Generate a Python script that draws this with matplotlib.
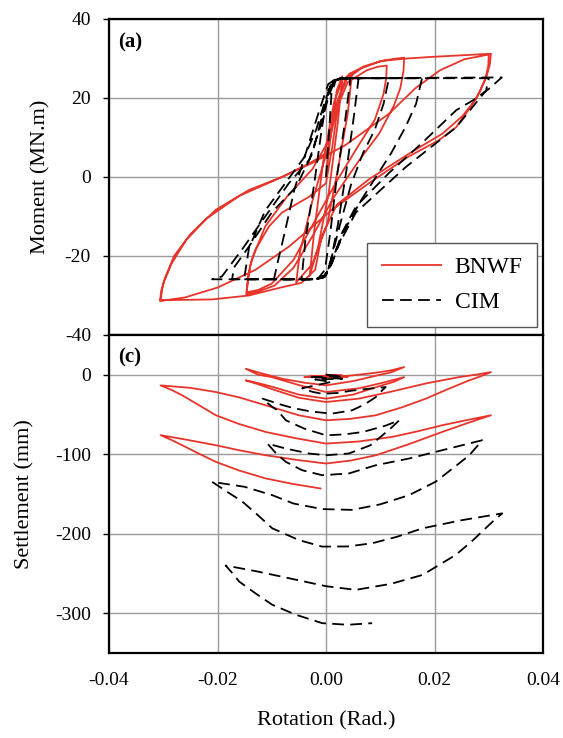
import numpy as np
import matplotlib
matplotlib.use("Agg")
from matplotlib import pyplot as plt

plt.rcParams['font.family'] = ['Liberation Serif', 'DejaVu Serif']
plt.rcParams['axes.unicode_minus'] = False

# (rotation rad, moment MN.m)
bnwf_moment = [
    (0.0000, 0.0), (0.0010, 12.0), (0.0020, 22.0), (0.0030, 25.5),
    (0.0022, 14.0), (0.0005, -4.0), (-0.0015, -18.0), (-0.0030, -25.0),
    (-0.0022, -14.0), (-0.0005, 4.0), (0.0015, 19.0), (0.0030, 24.5), (0.0048, 26.4),
    (0.0040, 16.0), (0.0022, 2.0), (0.0002, -12.0), (-0.0025, -22.0), (-0.0055, -26.7),
    (-0.0048, -19.0), (-0.0025, -6.0), (0.0003, 7.0), (0.0018, 18.0), (0.0035, 24.5),
    (0.0065, 27.5), (0.0100, 29.3), (0.0125, 29.9), (0.0144, 30.2),
    (0.0143, 27.0), (0.0137, 22.5), (0.0125, 18.0), (0.0098, 11.0), (0.0060, 4.0), (0.0015, -5.0),
    (-0.0025, -15.0), (-0.0060, -23.0), (-0.0095, -27.5), (-0.0125, -29.0), (-0.0147, -29.7),
    (-0.0145, -27.0), (-0.0140, -22.5), (-0.0130, -18.4), (-0.0105, -12.5), (-0.0081, -9.0),
    (-0.0031, -5.0), (0.0000, -1.6), (0.0012, 8.0), (0.0022, 18.0), (0.0040, 24.0),
    (0.0075, 27.0), (0.0095, 27.9), (0.0112, 28.2),
    (0.0111, 25.0), (0.0106, 21.0), (0.0090, 14.5), (0.0060, 8.0), (0.0020, -1.0), (-0.0020, -11.0),
    (-0.0060, -21.0), (-0.0100, -27.0), (-0.0125, -28.6), (-0.0146, -29.2),
    (-0.0143, -25.0), (-0.0137, -21.0), (-0.0112, -12.5), (-0.0072, -5.0), (-0.0025, 2.0),
    (0.0008, 10.0), (0.0024, 20.0), (0.0042, 26.0), (0.0070, 28.0), (0.0103, 29.4),
    (0.0150, 30.0), (0.0195, 30.4), (0.0250, 30.8), (0.0304, 31.2),
    (0.0302, 28.5), (0.0296, 25.5), (0.0285, 22.0), (0.0268, 18.0), (0.0240, 12.6),
    (0.0208, 9.3), (0.0150, 5.0), (0.0080, -1.5), (0.0011, -8.3), (-0.0068, -17.6),
    (-0.0130, -23.5), (-0.0200, -28.0), (-0.0260, -30.5), (-0.0306, -31.4),
    (-0.0304, -29.0), (-0.0300, -27.0), (-0.0285, -22.0), (-0.0258, -16.0), (-0.0220, -10.5),
    (-0.0160, -4.8), (-0.0081, 0.0), (-0.0026, 3.5), (0.0035, 8.0), (0.0116, 16.0),
    (0.0165, 22.5), (0.0210, 27.0), (0.0255, 29.8), (0.0300, 31.0),
    (0.0299, 28.0), (0.0294, 25.0), (0.0278, 20.0), (0.0252, 15.5), (0.0215, 11.0), (0.0160, 6.5),
    (0.0080, -0.5), (0.0020, -7.0), (-0.0008, -15.0), (-0.0020, -23.5), (-0.0045, -26.8),
    (-0.0081, -27.9), (-0.0142, -30.0), (-0.0210, -31.0), (-0.0305, -31.2),
    (-0.0302, -28.5), (-0.0298, -26.0), (-0.0280, -20.0), (-0.0250, -14.5), (-0.0203, -8.3),
    (-0.0142, -3.3), (-0.0081, 0.0), (-0.0030, 3.5), (0.0000, 6.0),
]

cim_moment = [
    (0.0000, 0.0), (0.0006, 12.0), (0.0010, 21.0), (0.0018, 24.5), (0.0030, 25.0), (0.0045, 25.0),
    (0.0035, 14.0), (0.0020, 0.0), (0.0008, -14.0), (-0.0002, -23.5), (-0.0015, -25.8), (-0.0045, -25.9),
    (-0.0038, -16.0), (-0.0022, -2.0), (-0.0008, 12.0), (0.0004, 22.0), (0.0018, 24.8), (0.0060, 25.0),
    (0.0052, 16.0), (0.0038, 2.0), (0.0022, -12.0), (0.0008, -22.0), (-0.0005, -25.5),
    (-0.0020, -25.9), (-0.0096, -25.9),
    (-0.0088, -21.0), (-0.0076, -14.0), (-0.0058, -3.0), (-0.0035, 7.0), (-0.0012, 17.0),
    (0.0004, 23.5), (0.0020, 25.0), (0.0116, 25.0),
    (0.0106, 18.5), (0.0090, 12.0), (0.0068, 6.0), (0.0046, -2.0), (0.0026, -12.0),
    (0.0010, -20.5), (0.0000, -24.8), (-0.0020, -25.9), (-0.0151, -25.9),
    (-0.0142, -18.0), (-0.0112, -8.5), (-0.0072, -1.0), (-0.0040, 5.0), (-0.0018, 12.0),
    (0.0000, 20.0), (0.0014, 24.5), (0.0030, 25.0), (0.0177, 25.0),
    (0.0166, 18.5), (0.0146, 12.5), (0.0120, 6.0), (0.0092, 0.0), (0.0062, -6.5),
    (0.0032, -14.0), (0.0012, -21.5), (-0.0002, -25.3), (-0.0020, -25.9), (-0.0210, -25.9),
    (-0.0192, -25.2), (-0.0155, -18.4), (-0.0112, -10.0), (-0.0068, -1.5), (-0.0031, 4.3),
    (-0.0012, 12.0), (0.0004, 20.0), (0.0016, 24.5), (0.0035, 25.0), (0.0324, 25.2),
    (0.0302, 22.5), (0.0272, 19.5), (0.0240, 16.9), (0.0177, 8.6), (0.0116, 1.0),
    (0.0055, -7.5), (0.0030, -14.0), (0.0011, -21.6), (0.0000, -24.8), (-0.0020, -25.9), (-0.0173, -25.9),
    (-0.0170, -23.0), (-0.0142, -17.6), (-0.0100, -9.0), (-0.0055, -2.5), (-0.0025, 6.0),
    (-0.0006, 16.0), (0.0010, 24.0), (0.0030, 25.0), (0.0300, 25.0),
    (0.0295, 21.9), (0.0240, 12.6), (0.0147, 2.5), (0.0055, -9.0), (0.0020, -18.0),
    (0.0006, -22.6), (0.0000, -25.0),
]

# (rotation rad, settlement mm)
bnwf_settle = [
    (0.0000, 0.0), (0.0030, -1.0), (-0.0030, -2.0), (0.0040, -2.5), (-0.0040, -3.0), (0.0000, -3.0),
    (0.0040, -1.5), (0.0092, 2.5), (0.0120, 5.5), (0.0144, 9.6),
    (0.0120, 3.0), (0.0100, 0.0), (0.0050, -8.0), (0.0000, -13.4), (-0.0040, -10.0),
    (-0.0081, -5.0), (-0.0120, 2.0), (-0.0148, 7.5),
    (-0.0125, 0.0), (-0.0100, -3.0), (-0.0050, -13.0), (0.0000, -21.8), (0.0061, -17.0),
    (0.0105, -10.0), (0.0144, -3.0),
    (0.0125, -9.0), (0.0100, -14.0), (0.0050, -25.0), (0.0000, -30.1), (-0.0050, -25.0),
    (-0.0100, -15.0), (-0.0125, -10.5), (-0.0148, -7.1),
    (-0.0125, -12.0), (-0.0100, -18.0), (-0.0050, -29.0), (0.0000, -34.3), (0.0061, -30.0),
    (0.0122, -21.0), (0.0184, -11.0), (0.0245, -3.0), (0.0280, 0.5), (0.0304, 3.3),
    (0.0285, -2.0), (0.0264, -7.1), (0.0225, -18.0), (0.0184, -30.1), (0.0140, -41.0),
    (0.0092, -51.0), (0.0045, -55.5), (0.0000, -57.3), (-0.0050, -51.0), (-0.0111, -38.5),
    (-0.0160, -28.5), (-0.0203, -21.8), (-0.0250, -16.5), (-0.0305, -13.4),
    (-0.0285, -19.0), (-0.0265, -25.9), (-0.0235, -38.0), (-0.0203, -51.0), (-0.0160, -62.0),
    (-0.0111, -72.0), (-0.0055, -80.0), (0.0000, -86.6), (0.0060, -84.0), (0.0122, -78.2),
    (0.0170, -71.0), (0.0214, -63.6), (0.0260, -57.0), (0.0304, -51.0),
    (0.0260, -61.0), (0.0214, -72.0), (0.0150, -88.0), (0.0092, -101.3), (0.0045, -108.0),
    (0.0000, -111.7), (-0.0055, -107.0), (-0.0111, -101.3), (-0.0160, -95.0), (-0.0203, -88.7),
    (-0.0255, -82.0), (-0.0305, -76.0),
    (-0.0285, -82.0), (-0.0265, -88.7), (-0.0235, -99.0), (-0.0203, -109.6), (-0.0160, -120.5),
    (-0.0111, -130.5), (-0.0060, -137.5), (-0.0010, -143.1),
]

cim_settle = [
    (0.0000, 0.0), (0.0030, -2.0), (-0.0030, -3.0), (0.0030, -5.0), (-0.0020, -6.0), (0.0010, -9.0),
    (-0.0044, -17.0), (-0.0025, -21.5), (-0.0007, -24.0), (0.0020, -23.0), (0.0048, -20.0),
    (0.0080, -17.5), (0.0110, -15.5),
    (0.0100, -22.0), (0.0092, -28.0), (0.0072, -37.0), (0.0048, -44.8), (0.0010, -49.0),
    (-0.0030, -46.0), (-0.0060, -42.0), (-0.0081, -38.0), (-0.0117, -30.1),
    (-0.0108, -35.5), (-0.0100, -40.0), (-0.0090, -44.5), (-0.0074, -57.3), (-0.0040, -67.8),
    (0.0000, -76.2), (0.0035, -75.0), (0.0068, -72.0), (0.0110, -64.0), (0.0135, -57.3),
    (0.0120, -67.0), (0.0104, -76.2), (0.0082, -88.7), (0.0042, -99.1), (0.0000, -101.3),
    (-0.0031, -99.1), (-0.0074, -92.9), (-0.0108, -86.6),
    (-0.0092, -99.0), (-0.0074, -109.6), (-0.0044, -120.1), (-0.0007, -126.4), (0.0042, -124.2),
    (0.0092, -113.8), (0.0153, -105.4), (0.0214, -95.0), (0.0288, -82.4),
    (0.0276, -92.0), (0.0264, -101.3), (0.0245, -111.7), (0.0202, -134.6), (0.0153, -151.5),
    (0.0100, -163.0), (0.0048, -170.0), (-0.0007, -169.0), (-0.0060, -162.0), (-0.0099, -151.5),
    (-0.0150, -141.0), (-0.0210, -134.7),
    (-0.0185, -146.0), (-0.0154, -159.7), (-0.0125, -177.0), (-0.0099, -193.2), (-0.0050, -208.0),
    (-0.0007, -216.2), (0.0040, -216.0), (0.0085, -212.0), (0.0130, -204.0), (0.0178, -193.2),
    (0.0250, -183.0), (0.0325, -174.4),
    (0.0310, -183.0), (0.0294, -193.2), (0.0268, -210.0), (0.0239, -226.7), (0.0178, -251.8),
    (0.0120, -263.0), (0.0055, -270.6), (0.0000, -266.0), (-0.0068, -256.0), (-0.0130, -247.0),
    (-0.0185, -240.0),
    (-0.0172, -250.0), (-0.0160, -260.2), (-0.0130, -275.0), (-0.0099, -289.4), (-0.0055, -302.0),
    (-0.0007, -312.5), (0.0040, -314.5), (0.0085, -312.5),
]

x_ticks = [-0.04, -0.02, 0.00, 0.02, 0.04]
moment_ticks = [-40, -20, 0, 20, 40]
settle_ticks = [-300, -200, -100, 0]

red = '#e8352b'
dash = (0, (6.5, 3.5))

fig = plt.figure(figsize=(5.63, 7.38), dpi=100)
ax1 = fig.add_axes([0.1936, 0.5461, 0.7709, 0.4282])
ax2 = fig.add_axes([0.1936, 0.1152, 0.7709, 0.4309])

bm = np.array(bnwf_moment)
cm = np.array(cim_moment)
bs = np.array(bnwf_settle)
cs = np.array(cim_settle)

l1, = ax1.plot(bm[:, 0], bm[:, 1], color=red, lw=1.3, zorder=3)
l2, = ax1.plot(cm[:, 0], cm[:, 1], color='black', lw=1.3, ls=dash, zorder=4)
ax2.plot(bs[:, 0], bs[:, 1], color=red, lw=1.3, zorder=3)
ax2.plot(cs[:, 0], cs[:, 1], color='black', lw=1.3, ls=dash, zorder=4)

for ax in (ax1, ax2):
    ax.set_xlim(-0.04, 0.04)
    ax.set_xticks(x_ticks)
    ax.grid(True, color='#9a9a9a', lw=1.0)
    ax.set_axisbelow(True)
    for s in ax.spines.values():
        s.set_linewidth(1.6)
    ax.tick_params(axis='y', direction='out', length=4, width=1, labelsize=14, pad=9)

ax1.set_ylim(-40, 40)
ax1.set_yticks(moment_ticks)
ax1.tick_params(axis='x', labelbottom=False, length=0)
ax1.set_ylabel('Moment (MN.m)', fontsize=16, labelpad=10)
ax1.text(0.02, 0.925, '(a)', transform=ax1.transAxes, fontsize=15, fontweight='bold', va='center')

ax2.set_ylim(-350, 50)
ax2.set_yticks(settle_ticks)
ax2.set_xticklabels(['-0.04', '-0.02', '0.00', '0.02', '0.04'])
ax2.tick_params(axis='x', direction='out', length=0, labelsize=14, pad=14)
ax2.set_ylabel('Settlement (mm)', fontsize=16, labelpad=15)
ax2.set_xlabel('Rotation (Rad.)', fontsize=16, labelpad=16)
ax2.text(0.02, 0.93, '(c)', transform=ax2.transAxes, fontsize=15, fontweight='bold', va='center')

leg = ax1.legend([l1, l2], ['BNWF', 'CIM'], loc='lower right', bbox_to_anchor=(0.986, 0.025),
                 borderaxespad=0, fontsize=17, fancybox=False, edgecolor='#555555',
                 handlelength=2.5, borderpad=0.6, labelspacing=0.55, handletextpad=0.6)
leg.get_frame().set_linewidth(1.0)
leg.get_frame().set_alpha(1)

fig.savefig('out.png', dpi=100)
